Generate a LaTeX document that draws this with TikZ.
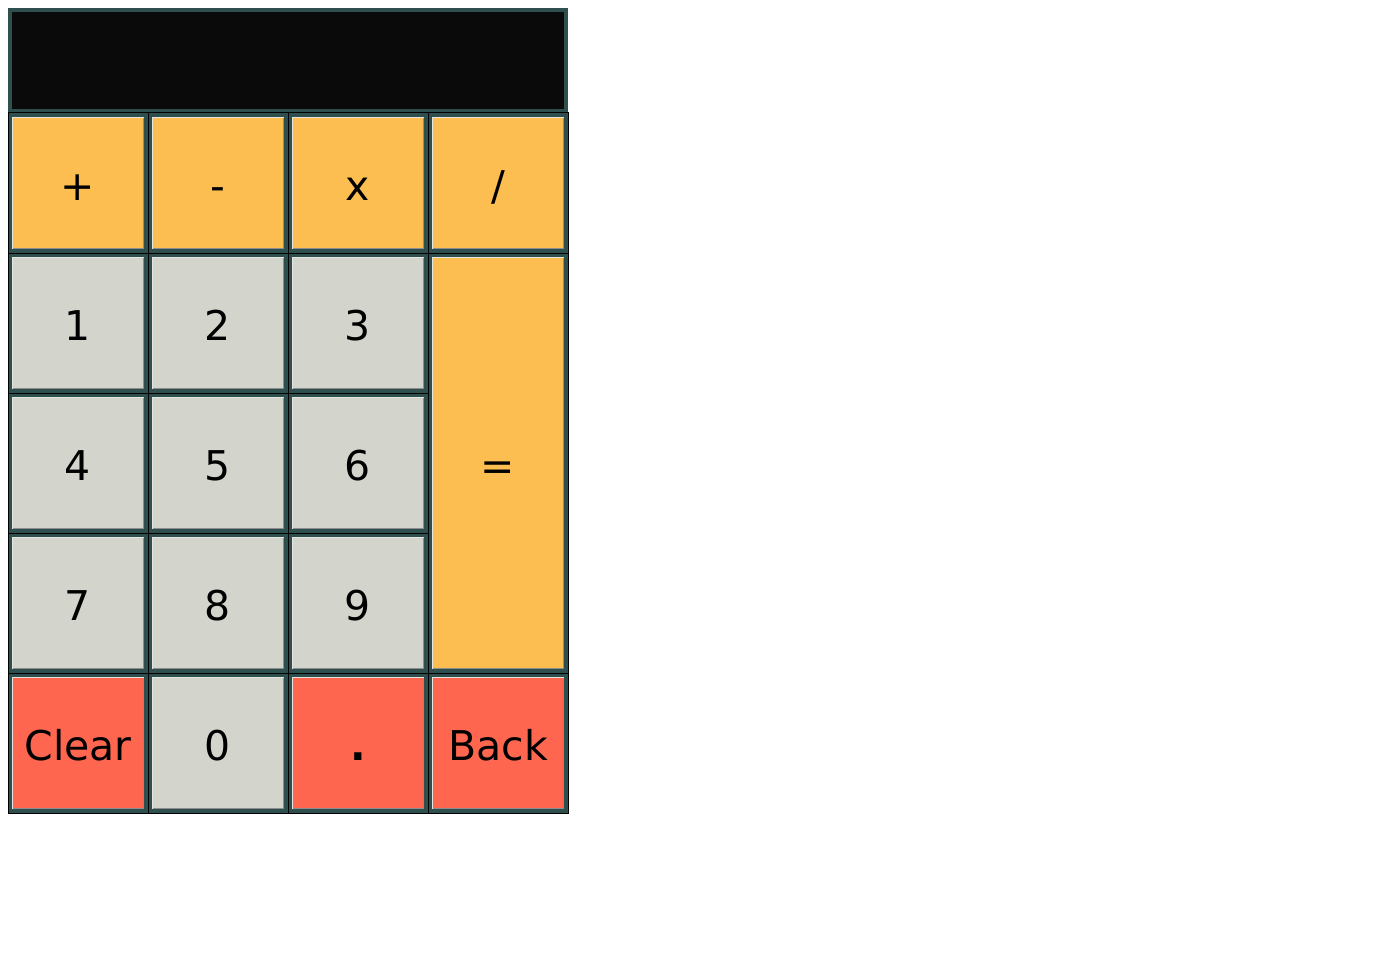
\documentclass[tikz,border=0pt]{standalone}
\usepackage{fontspec}
\setmainfont{DejaVu Sans}
\usetikzlibrary{positioning}
\definecolor{slate}{HTML}{2F4F4F}
\definecolor{screen}{HTML}{0A0A0A}
\definecolor{opkey}{HTML}{FCBE50}
\definecolor{numkey}{HTML}{D3D4CB}
\definecolor{redkey}{HTML}{FE6650}
\definecolor{bevdark}{HTML}{8C8C8C}
\definecolor{bevlite}{HTML}{E6E6E0}

\begin{document}
\begin{tikzpicture}[x=0.5pt,y=-0.5pt,
    cell/.style={fill=slate, draw=black, line width=0.5pt, minimum width=70pt, minimum height=70pt, inner sep=0pt, outer sep=0pt},
    key/.style={draw=bevdark, line width=0.75pt, minimum width=65.5pt, minimum height=65.5pt, inner sep=0pt, outer sep=0pt, text height=17pt, text depth=0pt, font=\fontsize{20.5}{24}\selectfont},
    lite/.style={draw=bevlite, line width=0.75pt}]
        \useasboundingbox (0,0) rectangle (1384,957);
        %\draw[red] (8,8) rectangle (568,813);
        \fill[slate] (8,8) rectangle (568,813);

        % display
        \node[fill=slate, minimum width=280pt, minimum height=52.5pt, inner sep=0pt] (frame) at (288,60.5) {};
        \node[fill=screen, minimum width=276pt, minimum height=48.5pt, inner sep=0pt] (display) at (288,60.5) {};

        % operators
        \node[cell] (cplus) at (78,183) {};
        \node[key, fill=opkey] (plus) at (78,183) {+};
        \node[cell] (cminus) at (218,183) {};
        \node[key, fill=opkey] (minus) at (218,183) {-};
        \node[cell] (ctimes) at (358,183) {};
        \node[key, fill=opkey] (times) at (358,183) {x};
        \node[cell] (cdiv) at (498,183) {};
        \node[key, fill=opkey] (div) at (498,183) {/};
        \foreach \k in {plus,minus,times,div}
            \draw[lite] (\k.south west) |- (\k.north east);

        % digits
        \foreach \n [count=\i from 0] in {1,...,9} {
            \pgfmathsetmacro{\cx}{78+140*mod(\i,3)}
            \pgfmathsetmacro{\cy}{323+140*int(\i/3)}
            \node[cell] (c\n) at (\cx,\cy) {};
            \node[key, fill=numkey] (k\n) at (\cx,\cy) {\n};
            \draw[lite] (k\n.south west) |- (k\n.north east);
        }

        % equals
        \node[cell, minimum height=210pt] (cequals) at (498,463) {};
        \node[key, fill=opkey, minimum height=205.5pt] (equals) at (498,463) {=};
        \draw[lite] (equals.south west) |- (equals.north east);

        % bottom row
        \node[cell] (cclear) at (78,743) {};
        \node[key, fill=redkey] (clear) at (78,743) {Clear};
        \node[cell] (c0) at (218,743) {};
        \node[key, fill=numkey] (k0) at (218,743) {0};
        \node[cell] (cdot) at (358,743) {};
        \node[key, fill=redkey] (dot) at (358,743) {\textbf{.}};
        \node[cell] (cback) at (498,743) {};
        \node[key, fill=redkey] (back) at (498,743) {Back};
        \foreach \k in {clear,k0,dot,back}
            \draw[lite] (\k.south west) |- (\k.north east);
\end{tikzpicture}
\end{document}
